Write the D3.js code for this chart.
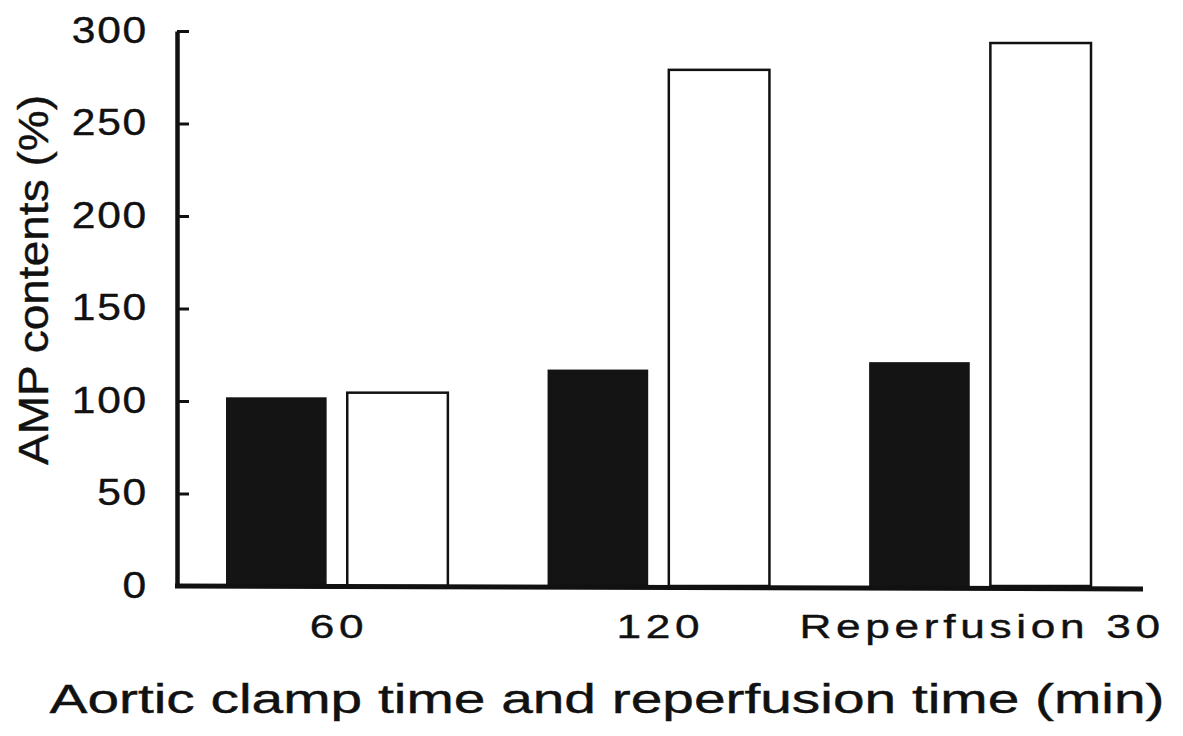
<!DOCTYPE html>
<html>
<head>
<meta charset="utf-8">
<script src="https://cdn.jsdelivr.net/npm/d3@7"></script>
<style>
  html, body { margin: 0; padding: 0; background: #fff; }
  svg { display: block; }
  text { font-family: "Liberation Sans", Arial, Helvetica, sans-serif; fill: #111; stroke: #111; stroke-width: 0.4px; }
</style>
</head>
<body>
<svg id="chart" width="1183" height="736"></svg>
<script>
// ---- data ----
const categories = ["60", "120", "Reperfusion 30"];
const seriesNames = ["filled", "open"];
const filledValues = [102, 117, 121];
const openValues = [104.5, 279, 293.5];
const yTickValues = [0, 50, 100, 150, 200, 250, 300];
const yTitle = "AMP contents (%)";
const xTitle = "Aortic clamp time and reperfusion time (min)";

const svg = d3.select("#chart");
const ink = "#111";

const y = d3.scaleLinear().domain([0, 300]).range([586, 31]);
const x0 = d3.scaleBand().domain(categories).range([226, 1091]).paddingInner(0.31).paddingOuter(0);
const x1 = d3.scaleBand().domain(seriesNames).range([0, x0.bandwidth()]).paddingInner(0.17);

const rows = categories.map((c, i) => ({
  cat: c,
  vals: [{ s: "filled", v: filledValues[i] }, { s: "open", v: openValues[i] }]
}));

// bars
const g = svg.append("g");
g.selectAll("g.grp").data(rows).join("g")
  .attr("class", "grp")
  .attr("transform", d => `translate(${x0(d.cat)},0)`)
  .selectAll("rect").data(d => d.vals).join("rect")
  .attr("x", d => x1(d.s))
  .attr("y", d => y(d.v))
  .attr("width", x1.bandwidth())
  .attr("height", d => y(0) - y(d.v))
  .attr("fill", d => d.s === "filled" ? "#141414" : "#fff")
  .attr("stroke", d => d.s === "filled" ? "none" : ink)
  .attr("stroke-width", 2.5);

// y axis
const yAxis = d3.axisLeft(y).tickValues(yTickValues).tickSizeInner(-12).tickSizeOuter(0).tickPadding(29);
const ya = svg.append("g").attr("transform", "translate(177,0)").call(yAxis);
ya.select(".domain").attr("stroke", ink).attr("stroke-width", 4.5);
ya.selectAll(".tick line").attr("stroke", ink).attr("stroke-width", 3);
ya.selectAll(".tick text")
  .attr("x", null).attr("dy", null)
  .attr("transform", "translate(-29,11) scale(1.15,1)")
  .attr("font-size", 37)
  .attr("letter-spacing", 1.5)
  .attr("fill", ink);

// baseline
svg.append("line")
  .attr("x1", 175).attr("x2", 1143)
  .attr("y1", y(0)).attr("y2", y(0) + 3)
  .attr("stroke", ink).attr("stroke-width", 5);

// x category labels
svg.selectAll("text.xcat").data(categories).join("text")
  .attr("class", "xcat")
  .attr("text-anchor", "middle")
  .attr("font-size", 34)
  .attr("letter-spacing", 3.6)
  .attr("transform", d => `translate(${x0(d) + x0.bandwidth() / 2 + 2},638) scale(1.3,1)`)
  .text(d => d);

// axis titles
svg.append("text")
  .attr("text-anchor", "middle")
  .attr("font-size", 42)
  .attr("transform", "translate(48,280) rotate(-90)")
  .attr("textLength", 370)
  .attr("lengthAdjust", "spacingAndGlyphs")
  .text(yTitle);

svg.append("text")
  .attr("text-anchor", "middle")
  .attr("font-size", 40)
  .attr("x", 607).attr("y", 713)
  .attr("textLength", 1115)
  .attr("lengthAdjust", "spacingAndGlyphs")
  .text(xTitle);
</script>
</body>
</html>
